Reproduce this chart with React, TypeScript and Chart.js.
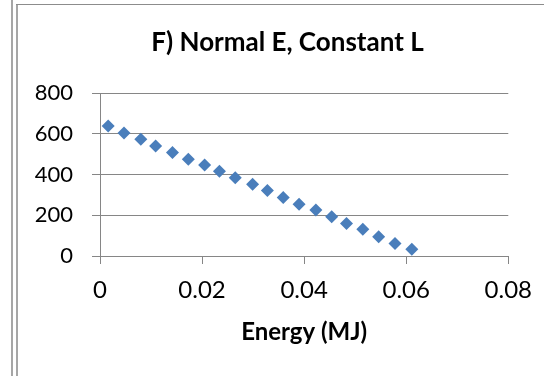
import React, { useEffect, useRef } from "react";
import { Chart, registerables } from "chart.js";

Chart.register(...registerables);

const chartTitle = "F) Normal E, Constant L";
const xAxisTitle = "Energy (MJ)";
const energyMJ = [
  0.0016, 0.0047, 0.008, 0.0109, 0.0142, 0.0173, 0.0205, 0.0234, 0.0265, 0.0299,
  0.0328, 0.0359, 0.039, 0.0423, 0.0454, 0.0483, 0.0515, 0.0546, 0.0578, 0.0611,
];
const yValues = [
  639, 605, 574, 541, 509, 476, 447, 417, 384, 352,
  322, 288, 254, 226, 193, 160, 131, 95, 62, 33,
];
const xTickLabels = ["0", "0.02", "0.04", "0.06", "0.08"];
const yTickLabels = ["0", "200", "400", "600", "800"];

const FONT = "Lato, 'Open Sans', sans-serif";
const GRID = "#868686";

const framePlugin = {
  id: "frame",
  afterLayout(chart: any) {
    const t = chart.titleBlock;
    if (t) {
      t.left = 16;
      t.right = 559;
      t.width = 543;
    }
  },
  beforeDraw(chart: any) {
    const ctx = chart.ctx;
    ctx.save();
    ctx.fillStyle = "#ffffff";
    ctx.fillRect(0, 0, chart.width, chart.height);
    ctx.fillStyle = "#a6a6a6";
    ctx.fillRect(11, 0, 2, chart.height);
    ctx.fillRect(16, 4, 2, chart.height - 4);
    ctx.fillStyle = "#8c8c8c";
    ctx.fillRect(16, 4, chart.width - 16, 1);
    ctx.restore();
  },
};

export default function App() {
  const ref = useRef<HTMLCanvasElement | null>(null);

  useEffect(() => {
    if (!ref.current) return;
    const points = energyMJ.map((x, i) => ({ x, y: yValues[i] }));
    const chart = new Chart(ref.current, {
      type: "scatter",
      data: {
        datasets: [
          {
            label: "series",
            data: points,
            pointStyle: "rectRot",
            pointRadius: 6.5,
            pointHoverRadius: 6.5,
            backgroundColor: "#4A7EBB",
            borderColor: "#4A7EBB",
            borderWidth: 0,
            showLine: false,
          },
        ],
      },
      options: {
        animation: false,
        responsive: false,
        events: [],
        layout: { padding: { left: 16, right: 35, top: 0, bottom: 0 } },
        plugins: {
          legend: { display: false },
          tooltip: { enabled: false },
          title: {
            display: true,
            text: chartTitle,
            color: "#000000",
            font: { family: FONT, size: 26, weight: "bold" },
            padding: { top: 27, bottom: 35 },
          },
        },
        scales: {
          x: {
            type: "linear",
            min: 0,
            max: 0.08,
            afterFit: (scale: any) => {
              scale.height = 120;
            },
            ticks: {
              stepSize: 0.02,
              color: "#000000",
              font: { family: FONT, size: 24 },
              padding: 12,
              maxRotation: 0,
              callback: (_v: any, i: number) => xTickLabels[i],
            },
            grid: {
              drawOnChartArea: false,
              drawTicks: true,
              tickLength: 8,
              color: GRID,
            },
            border: { display: true, color: GRID, width: 1 },
            title: {
              display: true,
              text: xAxisTitle,
              color: "#000000",
              font: { family: FONT, size: 24, weight: "bold" },
              padding: { top: 0, bottom: 29 },
            },
          },
          y: {
            type: "linear",
            min: 0,
            max: 800,
            afterFit: (scale: any) => {
              scale.width = 84;
            },
            ticks: {
              stepSize: 200,
              color: "#000000",
              font: { family: FONT, size: 22 },
              padding: 19,
              callback: (_v: any, i: number) => yTickLabels[i],
            },
            grid: {
              drawOnChartArea: true,
              drawTicks: true,
              tickLength: 8,
              color: GRID,
            },
            border: { display: true, color: GRID, width: 1 },
          },
        },
      },
      plugins: [framePlugin],
    });
    return () => chart.destroy();
  }, []);

  return (
    <div style={{ position: "fixed", left: 0, top: 0, width: 544, height: 376 }}>
      <canvas ref={ref} width={544} height={376} style={{ width: 544, height: 376 }} />
    </div>
  );
}
